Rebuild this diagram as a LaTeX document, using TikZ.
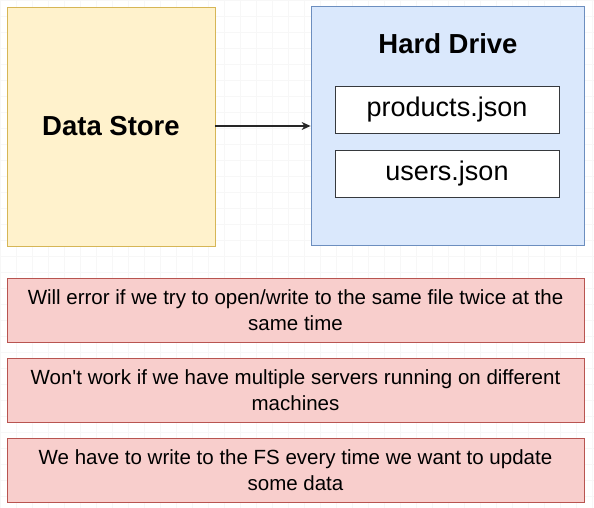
\documentclass[tikz,border=0pt]{standalone}
\usepackage{fontspec}
\setmainfont{Liberation Sans}
\newfontfamily\plainfont{Liberation Sans}
\usetikzlibrary{arrows.meta}

\definecolor{storefill}{HTML}{FFF2CC}
\definecolor{storeline}{HTML}{D6B656}
\definecolor{drivefill}{HTML}{DAE8FC}
\definecolor{driveline}{HTML}{6C8EBF}
\definecolor{notefill}{HTML}{F8CECC}
\definecolor{noteline}{HTML}{B85450}
\definecolor{fileline}{HTML}{36393D}

\tikzset{
  storebox/.style={draw=storeline, fill=storefill, line width=0.8pt, minimum width=208pt, minimum height=239pt, inner sep=0pt, font=\fontsize{27.5}{32}\selectfont\bfseries},
  drivebox/.style={draw=driveline, fill=drivefill, line width=0.8pt, minimum width=273pt, minimum height=239pt, inner sep=0pt},
  filebox/.style={draw=fileline, fill=white, line width=0.9pt, minimum width=224pt, minimum height=47pt, inner sep=0pt, font=\fontsize{27}{32}\selectfont},
  notebox/.style={draw=noteline, fill=notefill, line width=0.8pt, minimum width=577pt, minimum height=64pt, inner sep=0pt, align=center, font=\plainfont\fontsize{20.5}{26.5}\selectfont},
}

\begin{document}
\begin{tikzpicture}[x=1pt, y=-1pt]
      \useasboundingbox (0,0) rectangle (594,508);
      \fill[white] (0,0) rectangle (594,508);
      \draw[black!3, line width=0.4pt] (0,0) grid[step=16pt] (594,508);

      % Box: Data Store
      \node[storebox] (store) at (111,126.5) {Data Store};

      % Box: Hard Drive with its files
      \node[drivebox] (drive) at (447.5,125.5) {};
      \node[font=\fontsize{27.5}{32}\selectfont\bfseries] (drivetitle) at (448,44) {Hard Drive};
      \node[filebox] (products) at (447,109.5) {products.json};
      \node[filebox] (users) at (447,173.5) {users.json};

      % Arrow
      \draw[-{Stealth[length=9pt, width=8pt]}, line width=1.1pt, black!85] (store.east |- 0,126) -- (drive.west |- 0,126);

      % Notes
      \node[notebox] (noteone) at (295.5,310) {Will error if we try to open/write to the same file twice at the\\same time};
      \node[notebox] (notetwo) at (295.5,390) {Won't work if we have multiple servers running on different\\machines};
      \node[notebox] (notethree) at (295.5,470) {We have to write to the FS every time we want to update\\some data};
    \end{tikzpicture}
\end{document}
